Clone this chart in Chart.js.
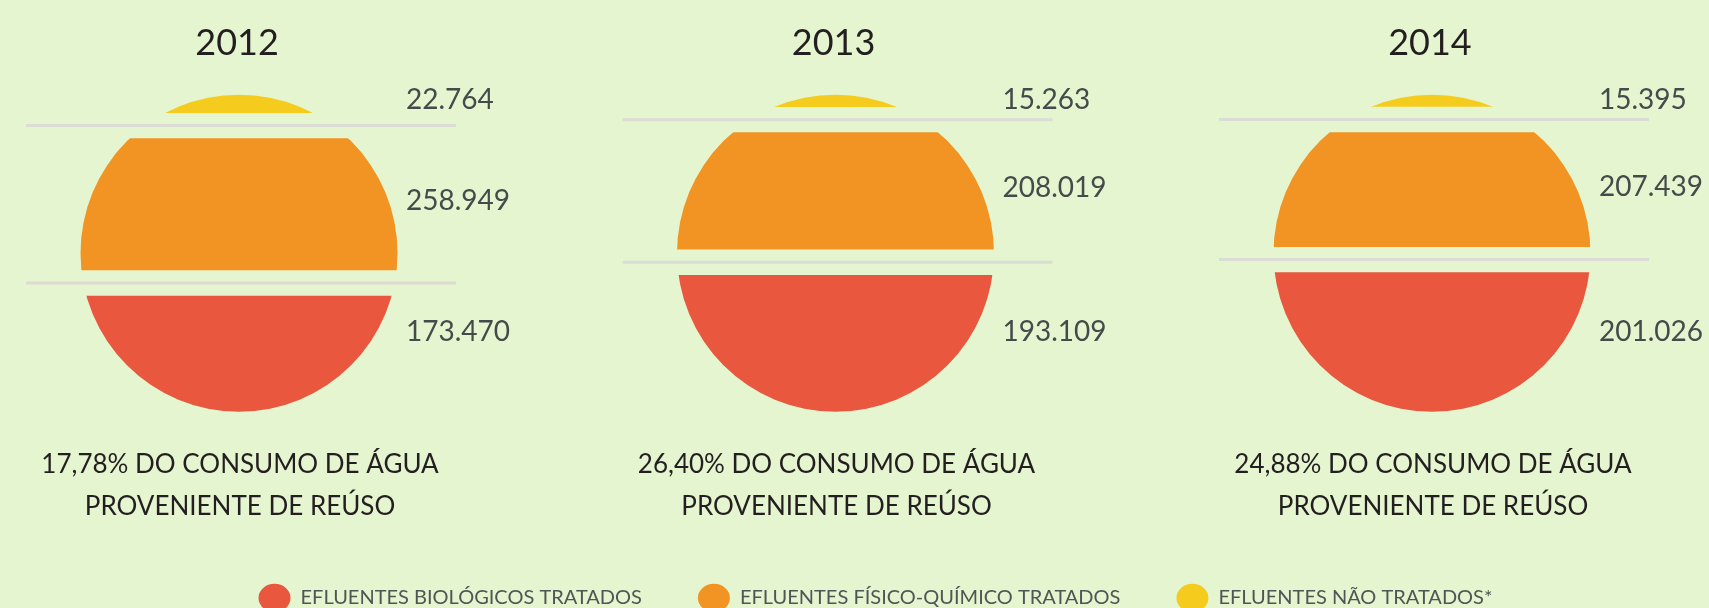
<!DOCTYPE html>
<html lang="pt-BR">
<head>
<meta charset="utf-8">
<title>Reúso de água 2012-2014</title>
<script src="https://cdn.jsdelivr.net/npm/chart.js@4.4.1/dist/chart.umd.min.js"></script>
<style>
  html, body { margin: 0; padding: 0; background: #e5f5cf; }
  canvas { display: block; }
</style>
</head>
<body>
<canvas id="reusoChart" width="1709" height="608"></canvas>
<script>
const anos = [2012, 2013, 2014];
const biologicos = [173470, 193109, 201026];
const fisicoQuimicos = [258949, 208019, 207439];
const naoTratados = [22764, 15263, 15395];
const percentualReuso = [17.78, 26.40, 24.88];
const legendas = ['EFLUENTES BIOLÓGICOS TRATADOS', 'EFLUENTES FÍSICO-QUÍMICO TRATADOS', 'EFLUENTES NÃO TRATADOS*'];

const cores = { vermelho: '#e8573e', laranja: '#f29423', amarelo: '#f5cc1d', linha: '#dcdcd6' };
const RAIO_PX = 158.5;    // raio do círculo em px
const CENTRO_PX = 253.2;  // y do centro do círculo
const FAIXA = 0.082;      // meia faixa removida em cada corte (em raios)

// fração da área do círculo numa calota de altura t (em raios)
function fracaoCalota(t) {
  const a = 1 - t;
  return (Math.acos(a) - a * Math.sqrt(1 - a * a)) / Math.PI;
}
function alturaCalota(f) {
  let lo = 0, hi = 2;
  for (let k = 0; k < 60; k++) {
    const m = (lo + hi) / 2;
    if (fracaoCalota(m) < f) lo = m; else hi = m;
  }
  return (lo + hi) / 2;
}

// posição dos cortes: cada faixa com área proporcional ao valor
const corte1 = [], corte2 = [];
anos.forEach((ano, i) => {
  const total = biologicos[i] + fisicoQuimicos[i] + naoTratados[i];
  corte1.push(-1 + alturaCalota(naoTratados[i] / total));
  corte2.push(1 - alturaCalota(biologicos[i] / total));
});

const faixaVermelha = anos.map((ano, i) => ({ x: ano, y: [corte2[i] + FAIXA, 1.1] }));
const faixaLaranja = anos.map((ano, i) => ({ x: ano, y: [corte1[i] + FAIXA, corte2[i] - FAIXA] }));
const faixaAmarela = anos.map((ano, i) => ({ x: ano, y: [-1.1, corte1[i] - FAIXA] }));

const fmt = v => String(v).replace(/\B(?=(\d{3})+(?!\d))/g, '.');

// as barras são recortadas pelo círculo de cada ano
const recorteCirculo = {
  id: 'recorteCirculo',
  beforeDatasetDraw(chart, args) {
    const { ctx, scales: { y } } = chart;
    const raio = Math.abs(y.getPixelForValue(1) - y.getPixelForValue(0));
    const cy = y.getPixelForValue(0);
    ctx.save();
    ctx.beginPath();
    args.meta.data.forEach(bar => {
      ctx.moveTo(bar.x + raio, cy);
      ctx.arc(bar.x, cy, raio, 0, Math.PI * 2);
    });
    ctx.clip();
  },
  afterDatasetDraw(chart) {
    chart.ctx.restore();
  }
};

const textos = {
  id: 'textos',
  afterDatasetsDraw(chart) {
    const { ctx, scales: { y } } = chart;
    const verm = chart.getDatasetMeta(0).data;
    const lar = chart.getDatasetMeta(1).data;
    ctx.save();
    anos.forEach((ano, i) => {
      const cx = verm[i].x;

      // linhas de corte
      const y1 = y.getPixelForValue(corte1[i]);
      const y2 = y.getPixelForValue(corte2[i]);
      ctx.strokeStyle = cores.linha;
      ctx.lineWidth = 3;
      ctx.beginPath();
      ctx.moveTo(cx - 213, y1); ctx.lineTo(cx + 217, y1);
      ctx.moveTo(cx - 213, y2); ctx.lineTo(cx + 217, y2);
      ctx.stroke();

      // ano
      ctx.fillStyle = '#231f20';
      ctx.textAlign = 'center';
      ctx.textBaseline = 'alphabetic';
      ctx.font = '36px Lato';
      ctx.fillText(String(ano), cx - 2, 55);

      // valores
      ctx.fillStyle = '#454a4a';
      ctx.textAlign = 'left';
      ctx.textBaseline = 'middle';
      ctx.font = '28px Lato';
      ctx.fillText(fmt(naoTratados[i]), cx + 167, y.getPixelForValue(-0.966));
      ctx.fillText(fmt(fisicoQuimicos[i]), cx + 167, (lar[i].y + lar[i].base) / 2 - 3);
      ctx.fillText(fmt(biologicos[i]), cx + 167, y.getPixelForValue(0.495));

      // rodapé de cada ano
      ctx.fillStyle = '#231f20';
      ctx.textAlign = 'center';
      ctx.textBaseline = 'alphabetic';
      ctx.font = '26px Lato';
      const pct = percentualReuso[i].toFixed(2).replace('.', ',') + '%';
      ctx.fillText(pct + ' DO CONSUMO DE ÁGUA', cx + 1, 473);
      ctx.fillText('PROVENIENTE DE REÚSO', cx + 1, 515);
    });
    ctx.restore();
  }
};

function criar() {
  new Chart(document.getElementById('reusoChart'), {
    type: 'bar',
    data: {
      datasets: [
        { label: legendas[0], data: faixaVermelha, backgroundColor: cores.vermelho },
        { label: legendas[1], data: faixaLaranja, backgroundColor: cores.laranja },
        { label: legendas[2], data: faixaAmarela, backgroundColor: cores.amarelo }
      ].map(d => Object.assign(d, { grouped: false, barThickness: 340, borderWidth: 0, clip: false, borderSkipped: false }))
    },
    options: {
      responsive: false,
      animation: false,
      events: [],
      layout: { padding: { left: 42, bottom: -10 } },
      scales: {
        x: { type: 'linear', display: false, offset: false, bounds: 'data', min: 2011.6697, max: 2014.4644 },
        y: {
          display: false,
          reverse: true,
          bounds: 'data',
          afterDataLimits(scale) {
            scale.min = -CENTRO_PX / RAIO_PX;
            scale.max = scale.min + scale.height / RAIO_PX;
          }
        }
      },
      plugins: {
        tooltip: { enabled: false },
        legend: {
          position: 'bottom',
          labels: {
            usePointStyle: true,
            pointStyle: 'circle',
            pointStyleWidth: 32,
            boxHeight: 22,
            padding: 56,
            color: '#505555',
            font: { family: 'Lato', size: 20 }
          }
        }
      }
    },
    plugins: [recorteCirculo, textos]
  });
}

document.fonts.load('30px Lato').then(criar, criar);
</script>
</body>
</html>
